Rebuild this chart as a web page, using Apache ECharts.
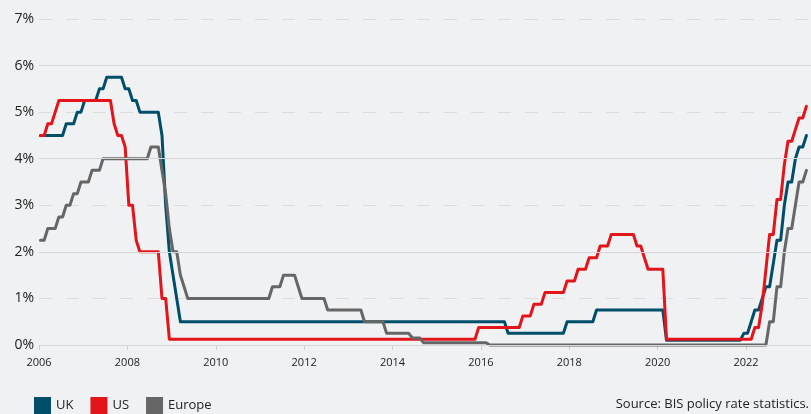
<!DOCTYPE html>
<html>
<head>
<meta charset="utf-8">
<script src="https://cdn.jsdelivr.net/npm/echarts@6/dist/echarts.min.js"></script>
<style>
html,body{margin:0;padding:0;background:#f0f1f3;}
#c{width:811px;height:414px;}
</style>
</head>
<body>
<div id="c"></div>
<script>
// Policy rates (%), month of change -> rate held from that month on
const ukChanges = [
  ['2006-01',4.5],['2006-08',4.75],['2006-11',5.0],['2007-01',5.25],['2007-05',5.5],['2007-07',5.75],
  ['2007-12',5.5],['2008-02',5.25],['2008-04',5.0],['2008-10',4.5],['2008-11',3.0],['2008-12',2.0],
  ['2009-01',1.5],['2009-02',1.0],['2009-03',0.5],['2016-08',0.25],['2017-12',0.5],['2018-08',0.75],
  ['2020-03',0.1],['2021-12',0.25],['2022-02',0.5],['2022-03',0.75],['2022-05',1.0],['2022-06',1.25],
  ['2022-08',1.75],['2022-09',2.25],['2022-11',3.0],['2022-12',3.5],['2023-02',4.0],['2023-03',4.25],
  ['2023-05',4.5]
];
const usChanges = [
  ['2006-01',4.5],['2006-03',4.75],['2006-05',5.0],['2006-06',5.25],['2007-09',4.75],['2007-10',4.5],
  ['2007-12',4.25],['2008-01',3.0],['2008-03',2.25],['2008-04',2.0],['2008-10',1.0],['2008-12',0.125],
  ['2015-12',0.375],['2016-12',0.625],['2017-03',0.875],['2017-06',1.125],['2017-12',1.375],['2018-03',1.625],
  ['2018-06',1.875],['2018-09',2.125],['2018-12',2.375],['2019-07',2.125],['2019-09',1.875],['2019-10',1.625],
  ['2020-03',0.125],['2022-03',0.375],['2022-05',0.875],['2022-06',1.625],['2022-07',2.375],['2022-09',3.125],
  ['2022-11',3.875],['2022-12',4.375],['2023-02',4.625],['2023-03',4.875],['2023-05',5.125]
];
const europeChanges = [
  ['2006-01',2.25],['2006-03',2.5],['2006-06',2.75],['2006-08',3.0],['2006-10',3.25],['2006-12',3.5],
  ['2007-03',3.75],['2007-06',4.0],['2008-07',4.25],['2008-10',3.75],['2008-11',3.25],['2008-12',2.5],
  ['2009-01',2.0],['2009-03',1.5],['2009-04',1.25],['2009-05',1.0],['2011-04',1.25],['2011-07',1.5],
  ['2011-11',1.25],['2011-12',1.0],['2012-07',0.75],['2013-05',0.5],['2013-11',0.25],['2014-06',0.15],
  ['2014-09',0.05],['2016-03',0.0],['2022-07',0.5],['2022-09',1.25],['2022-11',2.0],['2022-12',2.5],
  ['2023-02',3.0],['2023-03',3.5],['2023-05',3.75]
];
const lastMonth = '2023-05';
const seriesNames = ['UK','US','Europe'];
const yTicks = [0,1,2,3,4,5,6,7];
const solidGrid = [0,2,4,6];
const xLabelYears = [2006,2008,2010,2012,2014,2016,2018,2020,2022];

const MONTH_SHIFT = 0.4;
function toT(s){ const p = s.split('-').map(Number); return p[0] + (p[1]-1+MONTH_SHIFT)/12; }
function stepLine(changes, end){
  const pts = [];
  changes.forEach((c,i)=>{
    const t = toT(c[0]);
    if(i>0) pts.push([t-1/12, changes[i-1][1]]);
    pts.push([t, c[1]]);
  });
  const last = changes[changes.length-1];
  if(toT(end) > toT(last[0])) pts.push([toT(end), last[1]]);
  return pts;
}

const colors = {UK:'#004e6a', US:'#e3151a', Europe:'#666666'};
const dataMap = {UK:ukChanges, US:usChanges, Europe:europeChanges};
const FONT = '"Open Sans", "Noto Sans", sans-serif';

const chart = echarts.init(document.getElementById('c'), null, {renderer:'canvas'});
const lineSeries = seriesNames.map(n=>({
  name:n, type:'line', data: stepLine(dataMap[n], lastMonth),
  showSymbol:false, symbol:'none', clip:false, z:3,
  lineStyle:{color:colors[n], width:3, join:'round', cap:'round'},
  itemStyle:{color:colors[n]}
}));

chart.setOption({
  backgroundColor:'#f0f1f3',
  animation:false,
  textStyle:{fontFamily:FONT},
  grid:{left:39, right:0, top:19, bottom:69},
  xAxis:{
    type:'value', min:2006, max:2023.47, interval:2,
    axisLine:{show:true, lineStyle:{color:'#cfcfcf', width:1}},
    axisTick:{show:true, length:5, lineStyle:{color:'#cfcfcf'}},
    splitLine:{show:false},
    axisLabel:{show:true, showMaxLabel:false, margin:12, fontSize:11, color:'#222',
      formatter: v => xLabelYears.indexOf(v) >= 0 ? String(v) : ''}
  },
  yAxis:{
    type:'value', min:0, max:7, interval:1,
    axisLine:{show:false}, axisTick:{show:false},
    splitLine:{show:true, lineStyle:{color:'#dcdcdc', width:1, type:[13,14]}},
    axisLabel:{margin:5, fontSize:14, color:'#222',
      formatter: v => yTicks.indexOf(v) >= 0 ? v + '%' : ''}
  },
  legend:{
    data: seriesNames, left:34, top:397, padding:0, icon:'rect', itemWidth:17, itemHeight:17, itemGap:17,
    textStyle:{fontSize:13, color:'#222', fontFamily:FONT}, selectedMode:false
  },
  graphic:[{
    type:'text', right:2, top:398,
    style:{text:'Source: BIS policy rate statistics.', fontSize:13, fill:'#222', fontFamily:FONT}
  }],
  series:[{
    name:'grid', type:'line', data:[], z:1, silent:true,
    markLine:{symbol:'none', silent:true, animation:false, label:{show:false},
      lineStyle:{color:'#d6d6d6', type:'solid', width:1},
      emphasis:{disabled:true},
      data: solidGrid.map(v=>({yAxis:v}))}
  }].concat(lineSeries)
});
</script>
</body>
</html>
